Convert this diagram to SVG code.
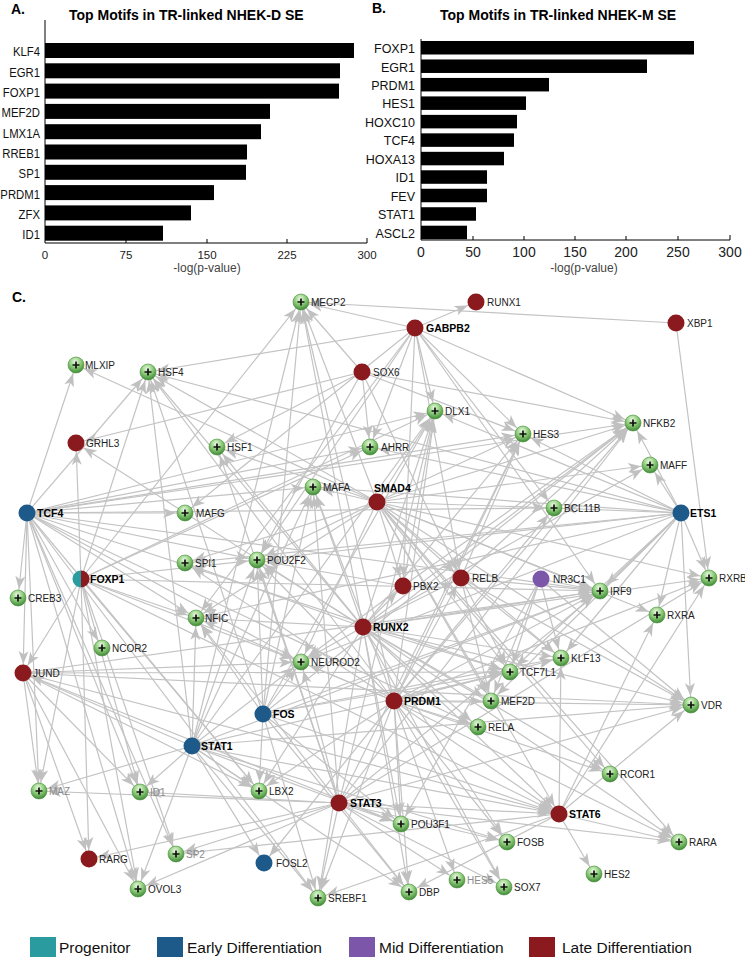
<svg xmlns="http://www.w3.org/2000/svg" width="745" height="959" viewBox="0 0 745 959">
<style>
.ax{stroke:#000;stroke-width:1;fill:none}
.bar{fill:#000}
.cl{font-family:"Liberation Sans",Arial,sans-serif;font-size:13.5px;fill:#111}
.clb{font-family:"Liberation Sans",Arial,sans-serif;font-size:12.5px;fill:#111}
.tk{font-family:"Liberation Sans",Arial,sans-serif;font-size:11.5px;fill:#222}
.tkb{font-family:"Liberation Sans",Arial,sans-serif;font-size:14px;fill:#222}
.xl{font-family:"Liberation Sans",Arial,sans-serif;font-size:12px;fill:#444}
.tt{font-family:"Liberation Sans",Arial,sans-serif;font-size:14px;font-weight:bold;fill:#000}
.pl{font-family:"Liberation Sans",Arial,sans-serif;font-size:14px;font-weight:bold;fill:#000}
.lgt{font-family:"Liberation Sans",Arial,sans-serif;font-size:15.5px;fill:#111}
#edges line{stroke:#c3c3c3;stroke-width:1.2;marker-end:url(#ar)}
#nodes text{font-family:"Liberation Sans",Arial,sans-serif;font-size:10px;fill:#222}
#nodes .hub text{font-weight:bold;fill:#000;font-size:10.5px}
#nodes .dim text{fill:#8a8a8a}
.g circle{fill:url(#gg);stroke:#4a8f3c;stroke-width:.6}
.g path{stroke:#111;stroke-width:1.7;fill:none}
.r circle{fill:#8b1a1e}
.b circle{fill:#1d5a8a}
.p circle{fill:#7b56a9}
</style>
<defs>
<radialGradient id="gg" cx="0.45" cy="0.3" r="0.7">
<stop offset="0" stop-color="#eef9e8"/>
<stop offset="0.45" stop-color="#96d383"/>
<stop offset="1" stop-color="#3e8a35"/>
</radialGradient>
<marker id="ar" markerUnits="userSpaceOnUse" viewBox="0 0 24 12" markerWidth="24" markerHeight="12" refX="22" refY="6" orient="auto">
<path d="M0,1 L13,6 L0,11 L3.5,6 Z" fill="#c0c0c0"/>
</marker>
</defs>
<rect width="745" height="959" fill="#fff"/>

<g id="chartA">
<text class="pl" x="11" y="14">A.</text>
<text class="tt" x="69" y="20">Top Motifs in TR-linked NHEK-D SE</text>
<rect class="bar" x="45" y="43" width="309" height="15"/>
<rect class="bar" x="45" y="63.3" width="295" height="15"/>
<rect class="bar" x="45" y="83.6" width="294" height="15"/>
<rect class="bar" x="45" y="103.9" width="225" height="15"/>
<rect class="bar" x="45" y="124.2" width="216" height="15"/>
<rect class="bar" x="45" y="144.5" width="202" height="15"/>
<rect class="bar" x="45" y="164.8" width="201" height="15"/>
<rect class="bar" x="45" y="185.1" width="169" height="15"/>
<rect class="bar" x="45" y="205.4" width="146" height="15"/>
<rect class="bar" x="45" y="225.7" width="118" height="15"/>
<g class="cl" text-anchor="end" transform="translate(40,0) scale(0.84,1)">
<text x="0" y="56.5">KLF4</text>
<text x="0" y="76.8">EGR1</text>
<text x="0" y="97.1">FOXP1</text>
<text x="0" y="117.4">MEF2D</text>
<text x="0" y="137.7">LMX1A</text>
<text x="0" y="158">RREB1</text>
<text x="0" y="178.3">SP1</text>
<text x="0" y="198.6">PRDM1</text>
<text x="0" y="218.9">ZFX</text>
<text x="0" y="239.2">ID1</text>
</g>
<path class="ax" d="M45,20V243H367M126,243v-4M207,243v-4M287,243v-4M367,243v-5"/>
<g class="tk" text-anchor="middle">
<text x="45" y="259">0</text>
<text x="126" y="259">75</text>
<text x="207" y="259">150</text>
<text x="287" y="259">225</text>
<text x="367" y="259">300</text>
</g>
<text class="xl" x="207" y="272" text-anchor="middle">-log(p-value)</text>
</g>

<g id="chartB">
<text class="pl" x="372" y="13">B.</text>
<text class="tt" x="440" y="20">Top Motifs in TR-linked NHEK-M SE</text>
<rect class="bar" x="421" y="41" width="273" height="13.5"/>
<rect class="bar" x="421" y="59.47" width="226" height="13.5"/>
<rect class="bar" x="421" y="77.94" width="128" height="13.5"/>
<rect class="bar" x="421" y="96.41" width="105" height="13.5"/>
<rect class="bar" x="421" y="114.88" width="96" height="13.5"/>
<rect class="bar" x="421" y="133.35" width="93" height="13.5"/>
<rect class="bar" x="421" y="151.82" width="83" height="13.5"/>
<rect class="bar" x="421" y="170.29" width="66" height="13.5"/>
<rect class="bar" x="421" y="188.76" width="66" height="13.5"/>
<rect class="bar" x="421" y="207.23" width="55" height="13.5"/>
<rect class="bar" x="421" y="225.7" width="46" height="13.5"/>
<g class="clb" text-anchor="end">
<text x="415" y="53">FOXP1</text>
<text x="415" y="71.5">EGR1</text>
<text x="415" y="90">PRDM1</text>
<text x="415" y="108.4">HES1</text>
<text x="415" y="126.9">HOXC10</text>
<text x="415" y="145.4">TCF4</text>
<text x="415" y="163.8">HOXA13</text>
<text x="415" y="182.3">ID1</text>
<text x="415" y="200.8">FEV</text>
<text x="415" y="219.2">STAT1</text>
<text x="415" y="237.7">ASCL2</text>
</g>
<path class="ax" d="M421,39V240H730M473,240v-4M524,240v-4M575,240v-4M626,240v-4M678,240v-4M730,240v-5"/>
<g class="tkb" text-anchor="middle">
<text x="421" y="257">0</text>
<text x="473" y="257">50</text>
<text x="524" y="257">100</text>
<text x="575" y="257">150</text>
<text x="626" y="257">200</text>
<text x="678" y="257">250</text>
<text x="730" y="257">300</text>
</g>
<text class="xl" x="584" y="272" text-anchor="middle">-log(p-value)</text>
</g>

<text class="pl" x="12" y="302">C.</text>

<g id="edges">
<line x1="27" y1="513" x2="76" y2="365"/>
<line x1="27" y1="513" x2="18" y2="598"/>
<line x1="27" y1="513" x2="185" y2="513"/>
<line x1="27" y1="513" x2="148" y2="372"/>
<line x1="27" y1="513" x2="313" y2="487"/>
<line x1="27" y1="513" x2="370" y2="447"/>
<line x1="27" y1="513" x2="435" y2="411"/>
<line x1="27" y1="513" x2="523" y2="434"/>
<line x1="27" y1="513" x2="257" y2="560"/>
<line x1="27" y1="513" x2="196" y2="618"/>
<line x1="27" y1="513" x2="102" y2="648"/>
<line x1="27" y1="513" x2="23" y2="673"/>
<line x1="27" y1="513" x2="39" y2="791"/>
<line x1="27" y1="513" x2="140" y2="792"/>
<line x1="27" y1="513" x2="259" y2="791"/>
<line x1="27" y1="513" x2="301" y2="662"/>
<line x1="27" y1="513" x2="554" y2="508"/>
<line x1="27" y1="513" x2="600" y2="591"/>
<line x1="27" y1="513" x2="510" y2="672"/>
<line x1="27" y1="513" x2="478" y2="727"/>
<line x1="27" y1="513" x2="318" y2="898"/>
<line x1="27" y1="513" x2="138" y2="889"/>
<line x1="27" y1="513" x2="176" y2="854"/>
<line x1="27" y1="513" x2="633" y2="423"/>

<line x1="81" y1="579" x2="76" y2="443"/>
<line x1="81" y1="579" x2="148" y2="372"/>
<line x1="81" y1="579" x2="301" y2="302"/>
<line x1="81" y1="579" x2="196" y2="618"/>
<line x1="81" y1="579" x2="23" y2="673"/>
<line x1="81" y1="579" x2="39" y2="791"/>
<line x1="81" y1="579" x2="140" y2="792"/>
<line x1="81" y1="579" x2="176" y2="854"/>
<line x1="81" y1="579" x2="138" y2="889"/>
<line x1="81" y1="579" x2="89" y2="859"/>
<line x1="81" y1="579" x2="259" y2="791"/>
<line x1="81" y1="579" x2="301" y2="662"/>
<line x1="81" y1="579" x2="257" y2="560"/>
<line x1="81" y1="579" x2="435" y2="411"/>
<line x1="81" y1="579" x2="370" y2="447"/>
<line x1="81" y1="579" x2="600" y2="591"/>
<line x1="81" y1="579" x2="559" y2="814"/>

<line x1="415" y1="328" x2="476" y2="302"/>
<line x1="415" y1="328" x2="301" y2="302"/>
<line x1="415" y1="328" x2="148" y2="372"/>
<line x1="415" y1="328" x2="185" y2="513"/>
<line x1="415" y1="328" x2="370" y2="447"/>
<line x1="415" y1="328" x2="435" y2="411"/>
<line x1="415" y1="328" x2="523" y2="434"/>
<line x1="415" y1="328" x2="633" y2="423"/>
<line x1="415" y1="328" x2="461" y2="578"/>
<line x1="415" y1="328" x2="403" y2="586"/>
<line x1="415" y1="328" x2="554" y2="508"/>
<line x1="415" y1="328" x2="600" y2="591"/>
<line x1="415" y1="328" x2="257" y2="560"/>
<line x1="415" y1="328" x2="196" y2="618"/>

<line x1="362" y1="372" x2="76" y2="443"/>
<line x1="362" y1="372" x2="217" y2="447"/>
<line x1="362" y1="372" x2="370" y2="447"/>
<line x1="362" y1="372" x2="523" y2="434"/>
<line x1="362" y1="372" x2="461" y2="578"/>
<line x1="362" y1="372" x2="257" y2="560"/>
<line x1="362" y1="372" x2="301" y2="302"/>
<line x1="362" y1="372" x2="633" y2="423"/>

<line x1="377" y1="502" x2="76" y2="365"/>
<line x1="377" y1="502" x2="301" y2="302"/>
<line x1="377" y1="502" x2="148" y2="372"/>
<line x1="377" y1="502" x2="217" y2="447"/>
<line x1="377" y1="502" x2="313" y2="487"/>
<line x1="377" y1="502" x2="185" y2="563"/>
<line x1="377" y1="502" x2="257" y2="560"/>
<line x1="377" y1="502" x2="196" y2="618"/>
<line x1="377" y1="502" x2="435" y2="411"/>
<line x1="377" y1="502" x2="523" y2="434"/>
<line x1="377" y1="502" x2="633" y2="423"/>
<line x1="377" y1="502" x2="554" y2="508"/>
<line x1="377" y1="502" x2="403" y2="586"/>
<line x1="377" y1="502" x2="461" y2="578"/>
<line x1="377" y1="502" x2="600" y2="591"/>
<line x1="377" y1="502" x2="709" y2="578"/>
<line x1="377" y1="502" x2="657" y2="615"/>
<line x1="377" y1="502" x2="561" y2="658"/>
<line x1="377" y1="502" x2="510" y2="672"/>
<line x1="377" y1="502" x2="491" y2="701"/>
<line x1="377" y1="502" x2="691" y2="705"/>
<line x1="377" y1="502" x2="301" y2="662"/>
<line x1="377" y1="502" x2="610" y2="774"/>
<line x1="377" y1="502" x2="679" y2="842"/>
<line x1="377" y1="502" x2="559" y2="814"/>
<line x1="377" y1="502" x2="650" y2="465"/>

<line x1="681" y1="513" x2="650" y2="465"/>
<line x1="681" y1="513" x2="633" y2="423"/>
<line x1="681" y1="513" x2="523" y2="434"/>
<line x1="681" y1="513" x2="554" y2="508"/>
<line x1="681" y1="513" x2="709" y2="578"/>
<line x1="681" y1="513" x2="600" y2="591"/>
<line x1="681" y1="513" x2="657" y2="615"/>
<line x1="681" y1="513" x2="691" y2="705"/>
<line x1="681" y1="513" x2="148" y2="372"/>
<line x1="681" y1="513" x2="370" y2="447"/>
<line x1="681" y1="513" x2="313" y2="487"/>
<line x1="681" y1="513" x2="257" y2="560"/>
<line x1="681" y1="513" x2="185" y2="563"/>
<line x1="681" y1="513" x2="196" y2="618"/>
<line x1="681" y1="513" x2="561" y2="658"/>
<line x1="681" y1="513" x2="510" y2="672"/>
<line x1="681" y1="513" x2="491" y2="701"/>
<line x1="681" y1="513" x2="301" y2="662"/>
<line x1="681" y1="513" x2="435" y2="411"/>

<line x1="363" y1="627" x2="301" y2="302"/>
<line x1="363" y1="627" x2="148" y2="372"/>
<line x1="363" y1="627" x2="76" y2="443"/>
<line x1="363" y1="627" x2="217" y2="447"/>
<line x1="363" y1="627" x2="435" y2="411"/>
<line x1="363" y1="627" x2="313" y2="487"/>
<line x1="363" y1="627" x2="185" y2="563"/>
<line x1="363" y1="627" x2="633" y2="423"/>
<line x1="363" y1="627" x2="403" y2="586"/>
<line x1="363" y1="627" x2="461" y2="578"/>
<line x1="363" y1="627" x2="600" y2="591"/>
<line x1="363" y1="627" x2="709" y2="578"/>
<line x1="363" y1="627" x2="301" y2="662"/>
<line x1="363" y1="627" x2="196" y2="618"/>
<line x1="363" y1="627" x2="257" y2="560"/>
<line x1="363" y1="627" x2="510" y2="672"/>
<line x1="363" y1="627" x2="561" y2="658"/>
<line x1="363" y1="627" x2="491" y2="701"/>
<line x1="363" y1="627" x2="691" y2="705"/>
<line x1="363" y1="627" x2="259" y2="791"/>
<line x1="363" y1="627" x2="401" y2="824"/>
<line x1="363" y1="627" x2="409" y2="892"/>
<line x1="363" y1="627" x2="318" y2="898"/>
<line x1="363" y1="627" x2="478" y2="727"/>
<line x1="363" y1="627" x2="610" y2="774"/>
<line x1="363" y1="627" x2="507" y2="842"/>
<line x1="363" y1="627" x2="679" y2="842"/>
<line x1="363" y1="627" x2="504" y2="887"/>
<line x1="363" y1="627" x2="559" y2="814"/>
<line x1="363" y1="627" x2="523" y2="434"/>
<line x1="363" y1="627" x2="650" y2="465"/>

<line x1="394" y1="701" x2="301" y2="302"/>
<line x1="394" y1="701" x2="148" y2="372"/>
<line x1="394" y1="701" x2="313" y2="487"/>
<line x1="394" y1="701" x2="185" y2="563"/>
<line x1="394" y1="701" x2="196" y2="618"/>
<line x1="394" y1="701" x2="435" y2="411"/>
<line x1="394" y1="701" x2="523" y2="434"/>
<line x1="394" y1="701" x2="633" y2="423"/>
<line x1="394" y1="701" x2="554" y2="508"/>
<line x1="394" y1="701" x2="461" y2="578"/>
<line x1="394" y1="701" x2="600" y2="591"/>
<line x1="394" y1="701" x2="709" y2="578"/>
<line x1="394" y1="701" x2="301" y2="662"/>
<line x1="394" y1="701" x2="510" y2="672"/>
<line x1="394" y1="701" x2="561" y2="658"/>
<line x1="394" y1="701" x2="491" y2="701"/>
<line x1="394" y1="701" x2="478" y2="727"/>
<line x1="394" y1="701" x2="691" y2="705"/>
<line x1="394" y1="701" x2="610" y2="774"/>
<line x1="394" y1="701" x2="259" y2="791"/>
<line x1="394" y1="701" x2="401" y2="824"/>
<line x1="394" y1="701" x2="507" y2="842"/>
<line x1="394" y1="701" x2="457" y2="880"/>
<line x1="394" y1="701" x2="504" y2="887"/>
<line x1="394" y1="701" x2="409" y2="892"/>
<line x1="394" y1="701" x2="559" y2="814"/>
<line x1="394" y1="701" x2="679" y2="842"/>
<line x1="394" y1="701" x2="318" y2="898"/>
<line x1="394" y1="701" x2="264" y2="863"/>
<line x1="394" y1="701" x2="257" y2="560"/>

<line x1="192" y1="746" x2="301" y2="302"/>
<line x1="192" y1="746" x2="148" y2="372"/>
<line x1="192" y1="746" x2="313" y2="487"/>
<line x1="192" y1="746" x2="196" y2="618"/>
<line x1="192" y1="746" x2="257" y2="560"/>
<line x1="192" y1="746" x2="435" y2="411"/>
<line x1="192" y1="746" x2="23" y2="673"/>
<line x1="192" y1="746" x2="39" y2="791"/>
<line x1="192" y1="746" x2="140" y2="792"/>
<line x1="192" y1="746" x2="259" y2="791"/>
<line x1="192" y1="746" x2="138" y2="889"/>
<line x1="192" y1="746" x2="318" y2="898"/>
<line x1="192" y1="746" x2="264" y2="863"/>
<line x1="192" y1="746" x2="301" y2="662"/>
<line x1="192" y1="746" x2="510" y2="672"/>
<line x1="192" y1="746" x2="691" y2="705"/>
<line x1="192" y1="746" x2="600" y2="591"/>
<line x1="192" y1="746" x2="401" y2="824"/>
<line x1="192" y1="746" x2="507" y2="842"/>
<line x1="192" y1="746" x2="559" y2="814"/>
<line x1="192" y1="746" x2="409" y2="892"/>

<line x1="263" y1="714" x2="301" y2="302"/>
<line x1="263" y1="714" x2="148" y2="372"/>
<line x1="263" y1="714" x2="313" y2="487"/>
<line x1="263" y1="714" x2="257" y2="560"/>
<line x1="263" y1="714" x2="196" y2="618"/>
<line x1="263" y1="714" x2="435" y2="411"/>
<line x1="263" y1="714" x2="633" y2="423"/>
<line x1="263" y1="714" x2="600" y2="591"/>
<line x1="263" y1="714" x2="301" y2="662"/>
<line x1="263" y1="714" x2="259" y2="791"/>
<line x1="263" y1="714" x2="510" y2="672"/>
<line x1="263" y1="714" x2="561" y2="658"/>
<line x1="263" y1="714" x2="401" y2="824"/>
<line x1="263" y1="714" x2="318" y2="898"/>
<line x1="263" y1="714" x2="409" y2="892"/>
<line x1="263" y1="714" x2="559" y2="814"/>

<line x1="339" y1="803" x2="217" y2="447"/>
<line x1="339" y1="803" x2="313" y2="487"/>
<line x1="339" y1="803" x2="196" y2="618"/>
<line x1="339" y1="803" x2="257" y2="560"/>
<line x1="339" y1="803" x2="435" y2="411"/>
<line x1="339" y1="803" x2="523" y2="434"/>
<line x1="339" y1="803" x2="633" y2="423"/>
<line x1="339" y1="803" x2="600" y2="591"/>
<line x1="339" y1="803" x2="301" y2="662"/>
<line x1="339" y1="803" x2="140" y2="792"/>
<line x1="339" y1="803" x2="89" y2="859"/>
<line x1="339" y1="803" x2="138" y2="889"/>
<line x1="339" y1="803" x2="176" y2="854"/>
<line x1="339" y1="803" x2="318" y2="898"/>
<line x1="339" y1="803" x2="409" y2="892"/>
<line x1="339" y1="803" x2="401" y2="824"/>
<line x1="339" y1="803" x2="457" y2="880"/>
<line x1="339" y1="803" x2="504" y2="887"/>
<line x1="339" y1="803" x2="507" y2="842"/>
<line x1="339" y1="803" x2="559" y2="814"/>
<line x1="339" y1="803" x2="679" y2="842"/>
<line x1="339" y1="803" x2="691" y2="705"/>
<line x1="339" y1="803" x2="709" y2="578"/>
<line x1="339" y1="803" x2="39" y2="791"/>

<line x1="559" y1="814" x2="679" y2="842"/>
<line x1="559" y1="814" x2="594" y2="874"/>
<line x1="559" y1="814" x2="561" y2="658"/>
<line x1="559" y1="814" x2="657" y2="615"/>
<line x1="559" y1="814" x2="709" y2="578"/>
<line x1="559" y1="814" x2="691" y2="705"/>
<line x1="559" y1="814" x2="318" y2="898"/>
<line x1="559" y1="814" x2="176" y2="854"/>
<line x1="559" y1="814" x2="409" y2="892"/>

<line x1="23" y1="673" x2="39" y2="791"/>
<line x1="23" y1="673" x2="89" y2="859"/>
<line x1="23" y1="673" x2="138" y2="889"/>
<line x1="23" y1="673" x2="259" y2="791"/>
<line x1="23" y1="673" x2="301" y2="662"/>
<line x1="23" y1="673" x2="559" y2="814"/>
<line x1="23" y1="673" x2="510" y2="672"/>
<line x1="23" y1="673" x2="401" y2="824"/>
<line x1="23" y1="673" x2="140" y2="792"/>
<line x1="23" y1="673" x2="600" y2="591"/>
<line x1="23" y1="673" x2="691" y2="705"/>

<line x1="461" y1="578" x2="600" y2="591"/>
<line x1="461" y1="578" x2="561" y2="658"/>
<line x1="461" y1="578" x2="510" y2="672"/>
<line x1="461" y1="578" x2="491" y2="701"/>
<line x1="461" y1="578" x2="633" y2="423"/>
<line x1="461" y1="578" x2="691" y2="705"/>
<line x1="461" y1="578" x2="523" y2="434"/>

<line x1="403" y1="586" x2="301" y2="662"/>
<line x1="403" y1="586" x2="257" y2="560"/>
<line x1="403" y1="586" x2="633" y2="423"/>
<line x1="403" y1="586" x2="435" y2="411"/>

<line x1="540" y1="579" x2="600" y2="591"/>
<line x1="540" y1="579" x2="561" y2="658"/>
<line x1="540" y1="579" x2="510" y2="672"/>
<line x1="540" y1="579" x2="491" y2="701"/>
<line x1="540" y1="579" x2="691" y2="705"/>
<line x1="540" y1="579" x2="401" y2="824"/>

<line x1="676" y1="323" x2="709" y2="578"/>
<line x1="676" y1="323" x2="301" y2="302"/>
</g>

<g id="nodes">
<g id="n-MECP2" class="g"><circle cx="301" cy="302" r="8"/><path d="M297.5 302h7M301 298.5v7"/><text x="311" y="306">MECP2</text></g>
<g id="n-MLXIP" class="g"><circle cx="76" cy="365" r="8"/><path d="M72.5 365h7M76 361.5v7"/><text x="85" y="369">MLXIP</text></g>
<g id="n-HSF4" class="g"><circle cx="148" cy="372" r="8"/><path d="M144.5 372h7M148 368.5v7"/><text x="158" y="376">HSF4</text></g>
<g id="n-HSF1" class="g"><circle cx="217" cy="447" r="8"/><path d="M213.5 447h7M217 443.5v7"/><text x="227" y="451">HSF1</text></g>
<g id="n-MAFA" class="g"><circle cx="313" cy="487" r="8"/><path d="M309.5 487h7M313 483.5v7"/><text x="323" y="491">MAFA</text></g>
<g id="n-MAFG" class="g"><circle cx="185" cy="513" r="8"/><path d="M181.5 513h7M185 509.5v7"/><text x="196" y="517">MAFG</text></g>
<g id="n-SPI1" class="g"><circle cx="185" cy="563" r="8"/><path d="M181.5 563h7M185 559.5v7"/><text x="195" y="567">SPI1</text></g>
<g id="n-POU2F2" class="g"><circle cx="257" cy="560" r="8"/><path d="M253.5 560h7M257 556.5v7"/><text x="267" y="564">POU2F2</text></g>
<g id="n-CREB3" class="g"><circle cx="18" cy="598" r="8"/><path d="M14.5 598h7M18 594.5v7"/><text x="28" y="602">CREB3</text></g>
<g id="n-NFIC" class="g"><circle cx="196" cy="618" r="8"/><path d="M192.5 618h7M196 614.5v7"/><text x="205" y="622">NFIC</text></g>
<g id="n-DLX1" class="g"><circle cx="435" cy="411" r="8"/><path d="M431.5 411h7M435 407.5v7"/><text x="445" y="415">DLX1</text></g>
<g id="n-NFKB2" class="g"><circle cx="633" cy="423" r="8"/><path d="M629.5 423h7M633 419.5v7"/><text x="643" y="427">NFKB2</text></g>
<g id="n-HES3" class="g"><circle cx="523" cy="434" r="8"/><path d="M519.5 434h7M523 430.5v7"/><text x="533" y="438">HES3</text></g>
<g id="n-AHRR" class="g"><circle cx="370" cy="447" r="8"/><path d="M366.5 447h7M370 443.5v7"/><text x="381" y="451">AHRR</text></g>
<g id="n-MAFF" class="g"><circle cx="650" cy="465" r="8"/><path d="M646.5 465h7M650 461.5v7"/><text x="660" y="469">MAFF</text></g>
<g id="n-BCL11B" class="g"><circle cx="554" cy="508" r="8"/><path d="M550.5 508h7M554 504.5v7"/><text x="564" y="512">BCL11B</text></g>
<g id="n-IRF9" class="g"><circle cx="600" cy="591" r="8"/><path d="M596.5 591h7M600 587.5v7"/><text x="610" y="595">IRF9</text></g>
<g id="n-RXRB" class="g"><circle cx="709" cy="578" r="8"/><path d="M705.5 578h7M709 574.5v7"/><text x="719" y="582">RXRB</text></g>
<g id="n-RXRA" class="g"><circle cx="657" cy="615" r="8"/><path d="M653.5 615h7M657 611.5v7"/><text x="667" y="619">RXRA</text></g>
<g id="n-NCOR2" class="g"><circle cx="102" cy="648" r="8"/><path d="M98.5 648h7M102 644.5v7"/><text x="112" y="652">NCOR2</text></g>
<g id="n-NEUROD2" class="g"><circle cx="301" cy="662" r="8"/><path d="M297.5 662h7M301 658.5v7"/><text x="311" y="666">NEUROD2</text></g>
<g id="n-MAZ" class="g dim"><circle cx="39" cy="791" r="8"/><path d="M35.5 791h7M39 787.5v7"/><text x="49" y="795">MAZ</text></g>
<g id="n-ID1" class="g dim"><circle cx="140" cy="792" r="8"/><path d="M136.5 792h7M140 788.5v7"/><text x="150" y="796">ID1</text></g>
<g id="n-LBX2" class="g"><circle cx="259" cy="791" r="8"/><path d="M255.5 791h7M259 787.5v7"/><text x="269" y="795">LBX2</text></g>
<g id="n-SP2" class="g dim"><circle cx="176" cy="854" r="8"/><path d="M172.5 854h7M176 850.5v7"/><text x="186" y="858">SP2</text></g>
<g id="n-OVOL3" class="g"><circle cx="138" cy="889" r="8"/><path d="M134.5 889h7M138 885.5v7"/><text x="148" y="893">OVOL3</text></g>
<g id="n-SREBF1" class="g"><circle cx="318" cy="898" r="8"/><path d="M314.5 898h7M318 894.5v7"/><text x="328" y="902">SREBF1</text></g>
<g id="n-KLF13" class="g"><circle cx="561" cy="658" r="8"/><path d="M557.5 658h7M561 654.5v7"/><text x="571" y="662">KLF13</text></g>
<g id="n-TCF7L1" class="g"><circle cx="510" cy="672" r="8"/><path d="M506.5 672h7M510 668.5v7"/><text x="520" y="676">TCF7L1</text></g>
<g id="n-MEF2D" class="g"><circle cx="491" cy="701" r="8"/><path d="M487.5 701h7M491 697.5v7"/><text x="501" y="705">MEF2D</text></g>
<g id="n-VDR" class="g"><circle cx="691" cy="705" r="8"/><path d="M687.5 705h7M691 701.5v7"/><text x="701" y="709">VDR</text></g>
<g id="n-RELA" class="g"><circle cx="478" cy="727" r="8"/><path d="M474.5 727h7M478 723.5v7"/><text x="488" y="731">RELA</text></g>
<g id="n-RCOR1" class="g"><circle cx="610" cy="774" r="8"/><path d="M606.5 774h7M610 770.5v7"/><text x="620" y="778">RCOR1</text></g>
<g id="n-POU3F1" class="g"><circle cx="401" cy="824" r="8"/><path d="M397.5 824h7M401 820.5v7"/><text x="411" y="828">POU3F1</text></g>
<g id="n-FOSB" class="g"><circle cx="507" cy="842" r="8"/><path d="M503.5 842h7M507 838.5v7"/><text x="517" y="846">FOSB</text></g>
<g id="n-RARA" class="g"><circle cx="679" cy="842" r="8"/><path d="M675.5 842h7M679 838.5v7"/><text x="689" y="846">RARA</text></g>
<g id="n-HES2" class="g"><circle cx="594" cy="874" r="8"/><path d="M590.5 874h7M594 870.5v7"/><text x="604" y="878">HES2</text></g>
<g id="n-HES5" class="g dim"><circle cx="457" cy="880" r="8"/><path d="M453.5 880h7M457 876.5v7"/><text x="467" y="884">HES5</text></g>
<g id="n-SOX7" class="g"><circle cx="504" cy="887" r="8"/><path d="M500.5 887h7M504 883.5v7"/><text x="514" y="891">SOX7</text></g>
<g id="n-DBP" class="g"><circle cx="409" cy="892" r="8"/><path d="M405.5 892h7M409 888.5v7"/><text x="419" y="896">DBP</text></g>

<g id="n-RUNX1" class="r"><circle cx="476" cy="302" r="8.5"/><text x="487" y="306">RUNX1</text></g>
<g id="n-GABPB2" class="r hub"><circle cx="415" cy="328" r="8.5"/><text x="426" y="332">GABPB2</text></g>
<g id="n-XBP1" class="r"><circle cx="676" cy="323" r="8.5"/><text x="687" y="327">XBP1</text></g>
<g id="n-SOX6" class="r"><circle cx="362" cy="372" r="8.5"/><text x="373" y="376">SOX6</text></g>
<g id="n-GRHL3" class="r"><circle cx="76" cy="443" r="8.5"/><text x="86" y="447">GRHL3</text></g>
<g id="n-SMAD4" class="r hub"><circle cx="377" cy="502" r="8.5"/><text x="374" y="492">SMAD4</text></g>
<g id="n-PBX2" class="r"><circle cx="403" cy="586" r="8.5"/><text x="413" y="590">PBX2</text></g>
<g id="n-RELB" class="r"><circle cx="461" cy="578" r="8.5"/><text x="472" y="582">RELB</text></g>
<g id="n-RUNX2" class="r hub"><circle cx="363" cy="627" r="8.5"/><text x="373" y="631">RUNX2</text></g>
<g id="n-JUND" class="r"><circle cx="23" cy="673" r="8.5"/><text x="33" y="677">JUND</text></g>
<g id="n-PRDM1" class="r hub"><circle cx="394" cy="701" r="8.5"/><text x="404" y="705">PRDM1</text></g>
<g id="n-STAT3" class="r hub"><circle cx="339" cy="803" r="8.5"/><text x="350" y="807">STAT3</text></g>
<g id="n-RARG" class="r"><circle cx="89" cy="859" r="8.5"/><text x="99" y="863">RARG</text></g>
<g id="n-STAT6" class="r hub"><circle cx="559" cy="814" r="8.5"/><text x="569" y="818">STAT6</text></g>
<g id="n-TCF4" class="b hub"><circle cx="27" cy="513" r="8.5"/><text x="37" y="517">TCF4</text></g>
<g id="n-ETS1" class="b hub"><circle cx="681" cy="513" r="8.5"/><text x="690" y="517">ETS1</text></g>
<g id="n-FOS" class="b hub"><circle cx="263" cy="714" r="8.5"/><text x="273" y="718">FOS</text></g>
<g id="n-STAT1" class="b hub"><circle cx="192" cy="746" r="8.5"/><text x="201" y="750">STAT1</text></g>
<g id="n-FOSL2" class="b"><circle cx="264" cy="863" r="8.5"/><text x="276" y="867">FOSL2</text></g>
<g id="n-NR3C1" class="p"><circle cx="541" cy="579" r="8.5"/><text x="553" y="583">NR3C1</text></g>
<g id="n-FOXP1" class="hub"><path d="M81,570.5 A8.5,8.5 0 0 0 81,587.5 Z" fill="#2a9b9e"/><path d="M81,570.5 A8.5,8.5 0 0 1 81,587.5 Z" fill="#8b1a1e"/><text x="90" y="583">FOXP1</text></g>
</g>

<g id="legend">
<rect x="30" y="937" width="26" height="20" fill="#2a9b9e"/>
<text class="lgt" x="59" y="953">Progenitor</text>
<rect x="157" y="937" width="26" height="20" fill="#1d5a8a"/>
<text class="lgt" x="187" y="953">Early Differentiation</text>
<rect x="349" y="937" width="26" height="20" fill="#7b56a9"/>
<text class="lgt" x="379" y="953">Mid Differentiation</text>
<rect x="529" y="937" width="26" height="20" fill="#8b1a1e"/>
<text class="lgt" x="562" y="953">Late Differentiation</text>
</g>
</svg>
